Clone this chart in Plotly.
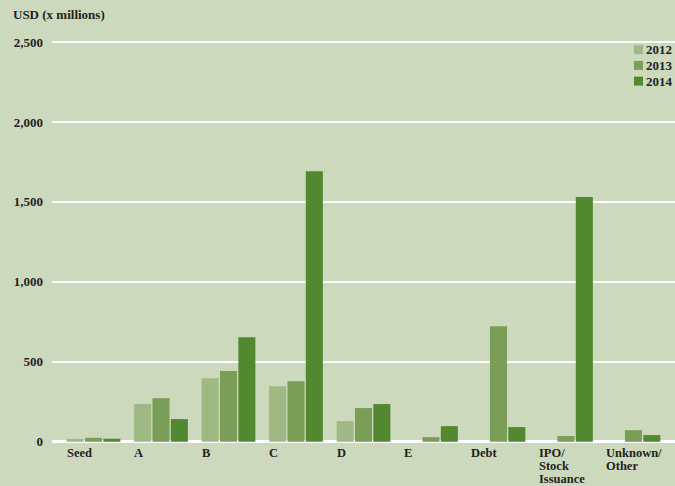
import plotly.graph_objects as go

categories = ["Seed", "A", "B", "C", "D", "E", "Debt", "IPO/<br>Stock<br>Issuance", "Unknown/<br>Other"]
v2012 = [18, 236, 398, 348, 129, 0, 0, 0, 0]
v2013 = [25, 273, 442, 379, 211, 29, 723, 36, 73]
v2014 = [19, 142, 654, 1692, 236, 98, 92, 1530, 42]
years = ["2012", "2013", "2014"]
colors = ["#9EB983", "#7A9E57", "#528930"]
tick_vals = [0, 500, 1000, 1500, 2000, 2500]
tick_text = ["0", "500", "1,000", "1,500", "2,000", "2,500"]

FONT = "Liberation Serif"
TXT = "#231F20"
BG = "#CDD9BD"

W, H = 675, 486
ML, MR, MT, MB = 52, 0, 26, 41
PW, PH = W - ML - MR, H - MT - MB


def px_to_paper_x(px):
    return (px - ML) / PW


def px_to_paper_y(py):
    return (H - MB - py) / PH


x_idx = list(range(len(categories)))

fig = go.Figure()
for name, vals, col in zip(years, [v2012, v2013, v2014], colors):
    fig.add_trace(go.Bar(x=x_idx, y=vals, name=name, showlegend=False,
                         marker=dict(color=col, line=dict(width=0))))

annotations = [dict(
    text="<b>USD (x millions)</b>", xref="paper", yref="paper", x=0, y=1,
    xanchor="left", yanchor="middle", xshift=-41, yshift=12,
    showarrow=False, font=dict(family=FONT, size=13, color=TXT))]

for i, lab in enumerate(categories):
    for k, line in enumerate(lab.split("<br>")):
        annotations.append(dict(
            text="<b>" + line + "</b>", x=i, xref="x", yref="paper", y=0,
            xanchor="left", yanchor="top", xshift=-28, yshift=0 - 12.8 * k,
            borderpad=0, showarrow=False, font=dict(family=FONT, size=12.5, color=TXT)))

# legend (top right)
shapes = []
leg_sq_x = px_to_paper_x(638.5)
leg_txt_x = px_to_paper_x(645)
for k, (yr, col) in enumerate(zip(years, colors)):
    yc = px_to_paper_y(49.7 + 15.7 * k)
    shapes.append(dict(type="rect", xref="paper", yref="paper",
                       xsizemode="pixel", ysizemode="pixel",
                       xanchor=leg_sq_x, yanchor=yc, x0=-4.5, x1=4.5, y0=-4.5, y1=4.5,
                       fillcolor=col, line=dict(width=0)))
    annotations.append(dict(text="<b>" + yr + "</b>", xref="paper", yref="paper",
                            x=leg_txt_x, y=yc, xanchor="left", yanchor="middle",
                            borderpad=0, showarrow=False,
                            font=dict(family=FONT, size=13, color=TXT)))

fig.update_layout(
    width=W, height=H,
    margin=dict(l=ML, r=MR, t=MT, b=MB),
    paper_bgcolor=BG, plot_bgcolor=BG,
    barmode="group", bargap=0.185, bargroupgap=0.07,
    font=dict(family=FONT, size=13, color=TXT),
    xaxis=dict(range=[-0.615, 8.615], showticklabels=False, showgrid=False,
               zeroline=False, showline=False, ticks=""),
    yaxis=dict(range=[-20, 2600], tickvals=tick_vals, ticktext=["<b>" + t + "</b>" for t in tick_text],
               showgrid=True, gridcolor="white", gridwidth=2,
               zeroline=True, zerolinecolor="white", zerolinewidth=3,
               showline=False, ticks="", ticklabelstandoff=8,
               tickfont=dict(family=FONT, size=13, color=TXT)),
    annotations=annotations,
    shapes=shapes,
    showlegend=False,
)

fig.write_html("out.html")
